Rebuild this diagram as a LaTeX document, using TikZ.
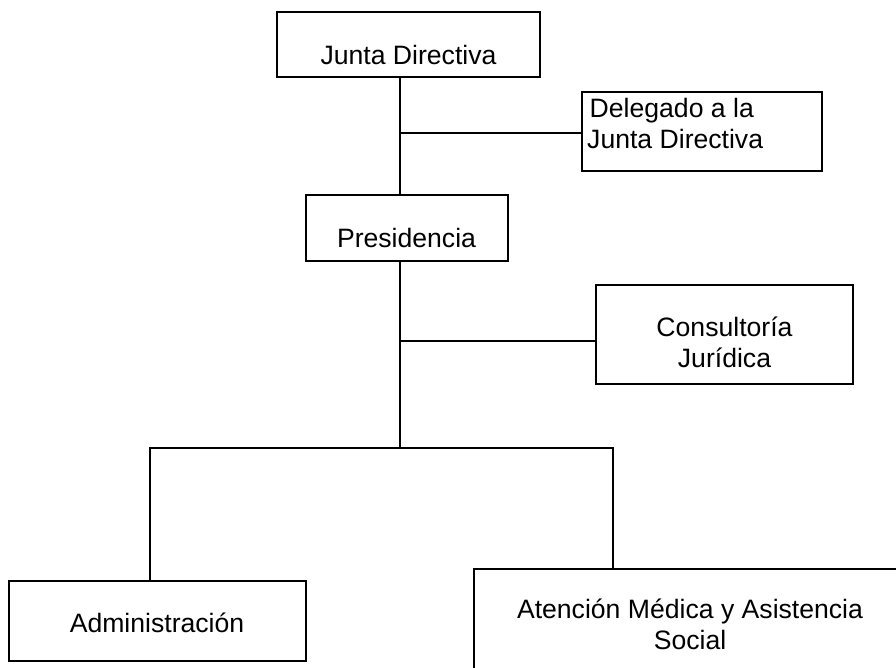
\documentclass[tikz,border=0pt]{standalone}
\usepackage{fontspec}
\setmainfont{Liberation Sans}
\begin{document}
\begin{tikzpicture}[x=1pt,y=-1pt,
  box/.style={draw=black,line width=1.4pt,rectangle,inner sep=0pt,outer sep=0pt,anchor=north west},
  lbl/.style={inner sep=0pt,font=\fontsize{26.6}{31}\selectfont,align=center},
  wire/.style={draw=black,line width=1.4pt}]
\useasboundingbox (0,0) rectangle (896,667);
\clip (0,0) rectangle (896,667);
% boxes
\node[box,minimum width=263pt,minimum height=65pt] (jd) at (277,12) {};
\node[box,minimum width=240pt,minimum height=79pt] (dl) at (582,92) {};
\node[box,minimum width=202pt,minimum height=66pt] (pr) at (306,195) {};
\node[box,minimum width=257pt,minimum height=99pt] (cj) at (596,285) {};
\node[box,minimum width=297pt,minimum height=80pt] (ad) at (9,581) {};
\node[box,minimum width=432pt,minimum height=110pt] (am) at (474,569) {};
\draw[line width=2.6pt] (dl.north west) -- (dl.south west);
% texts (multi-line nodes: base = last line)
\node[lbl,anchor=base] (jdt) at (408.5,64) {Junta Directiva};
\node[lbl,anchor=base west,align=left] (dlt) at (587,148) {\hspace*{2.5pt}Delegado a la\\Junta Directiva};
\node[lbl,anchor=base] (prt) at (406.5,247) {Presidencia};
\node[lbl,anchor=base] (cjt) at (724.5,367) {Consultoría\\Jurídica};
\node[lbl,anchor=base] (adt) at (157,632) {Administración};
\node[lbl,anchor=base] (amt) at (690,649) {Atención Médica y Asistencia\\Social};
% connectors
\coordinate (t1) at (400,133);
\coordinate (t2) at (400,341);
\coordinate (t3) at (400,448);
\coordinate (bl) at (150,448);
\coordinate (br) at (613,448);
\draw[wire] (jd.south -| t1) -- (pr.north -| t1);
\draw[wire] (t1) -- (dl.west |- t1);
\draw[wire] (pr.south -| t2) -- (t3);
\draw[wire] (t2) -- (cj.west |- t2);
\draw[wire] (ad.north -| bl) -- (bl) -- (br) -- (am.north -| br);
\end{tikzpicture}
\end{document}
